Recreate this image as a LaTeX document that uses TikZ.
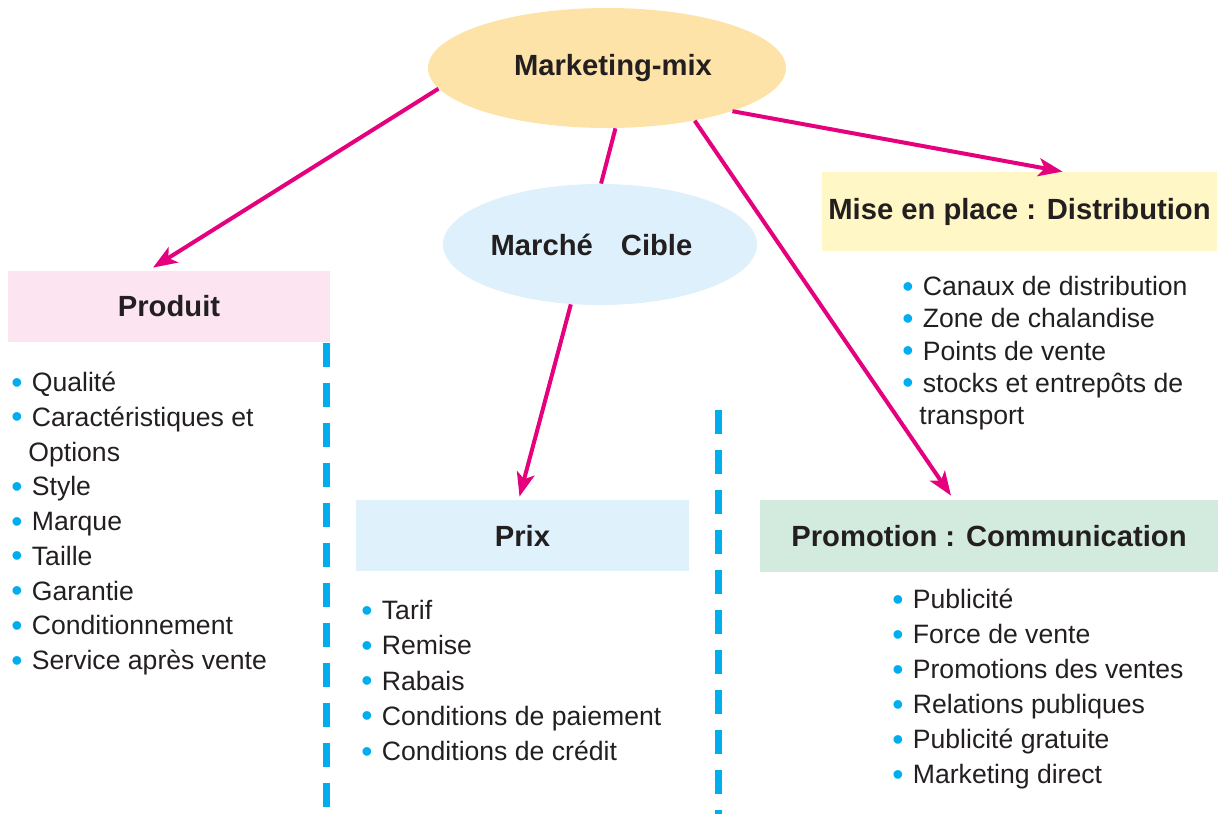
\documentclass[tikz,border=0pt]{standalone}
\usepackage{fontspec}
\setmainfont{Liberation Sans}
\usetikzlibrary{shapes.geometric,arrows.meta}

\definecolor{mmfill}{HTML}{FDE3A7}
\definecolor{cibfill}{HTML}{DDF0FB}
\definecolor{prodfill}{HTML}{FCE5F0}
\definecolor{prixfill}{HTML}{DFF2FC}
\definecolor{distfill}{HTML}{FFF8C6}
\definecolor{promofill}{HTML}{D3EBDE}
\definecolor{mixpink}{HTML}{E5007D}
\definecolor{dotblue}{HTML}{00AEEF}
\definecolor{textgray}{HTML}{231F20}

\newcommand\blt{{\color{dotblue}\raisebox{-0.06em}{\scalebox{1.2}{•}}}\hspace{0.35em}}

\tikzset{
  mixarrow/.style={draw=mixpink, line width=2pt, -{Stealth[length=12pt,width=9pt,inset=3pt]}},
  mixline/.style={draw=mixpink, line width=2pt},
  headtext/.style={inner sep=0pt, text=textgray, font=\fontsize{14.6}{17}\selectfont\bfseries},
  headbox/.style={headtext, rectangle},
  headoval/.style={headtext, ellipse},
  item/.style={anchor=base west, inner sep=0pt, text=textgray, font=\fontsize{13.3}{16}\selectfont},
  sepline/.style={draw=dotblue, line width=3.5pt, dash pattern=on 12pt off 8pt},
}

\begin{document}
\begin{tikzpicture}[x=0.5pt,y=-0.5pt]
  \useasboundingbox (0,0) rectangle (1220,814);
  % ovals
  \node[headoval, fill=mmfill, minimum width=179pt, minimum height=60pt] (mix) at (607,68) {\hspace*{6pt}Marketing-mix};
  \node[headoval, fill=cibfill, minimum width=157pt, minimum height=60.5pt] (cible) at (600,244.5) {Marché\hspace{10pt} Cible\hspace*{8.5pt}};
  % boxes
  \node[headbox, fill=prodfill, minimum width=161pt, minimum height=35.5pt] (produit) at (169,306.5) {Produit};
  \node[headbox, fill=prixfill, minimum width=166.5pt, minimum height=35.5pt] (prix) at (522.5,535.5) {Prix};
  \node[headbox, fill=distfill, minimum width=197.5pt, minimum height=39.5pt] (dist) at (1019.5,211.5) {Mise en place : Distribution};
  \node[headbox, fill=promofill, minimum width=229pt, minimum height=36pt] (promo) at (989,536) {Promotion : Communication};
  % arrows
  \draw[mixarrow] (mix.187) -- ([xshift=-8pt,yshift=1.5pt]produit.north);
  \draw[mixline] (mix.278) -- (cible.89);
  \draw[mixarrow] (cible.244) -- ([xshift=-1.5pt,yshift=1.5pt]prix.north);
  \draw[mixarrow] (mix.329) -- ([xshift=-19pt,yshift=2pt]promo.north);
  \draw[mixarrow] (mix.341) -- ([xshift=21.5pt,yshift=0pt]dist.north);
  % separators
  \draw[sepline] (326,343) -- (326,812);
  \draw[sepline] (718,410) -- (718,814);
  % lists
  \foreach \txt [count=\i from 0] in {{\blt Qualité},{\blt Caractéristiques et},{\hspace*{8.5pt}Options},{\blt Style},{\blt Marque},{\blt Taille},{\blt Garantie},{\blt Conditionnement},{\blt Service après vente}}
    \node[item] (prod\i) at (11,391.5+34.75*\i) {\txt};
  \foreach \txt [count=\i from 0] in {{\blt Tarif},{\blt Remise},{\blt Rabais},{\blt Conditions de paiement},{\blt Conditions de crédit}}
    \node[item] (prix\i) at (361,619.5+35.25*\i) {\txt};
  \foreach \txt [count=\i from 0] in {{\blt Canaux de distribution},{\blt Zone de chalandise},{\blt Points de vente},{\blt stocks et entrepôts de},{\hspace*{8.5pt}transport}}
    \node[item] (dist\i) at (902,295.5+32.25*\i) {\txt};
  \foreach \txt [count=\i from 0] in {{\blt Publicité},{\blt Force de vente},{\blt Promotions des ventes},{\blt Relations publiques},{\blt Publicité gratuite},{\blt Marketing direct}}
    \node[item] (promo\i) at (892,608.5+35*\i) {\txt};
\end{tikzpicture}
\end{document}
